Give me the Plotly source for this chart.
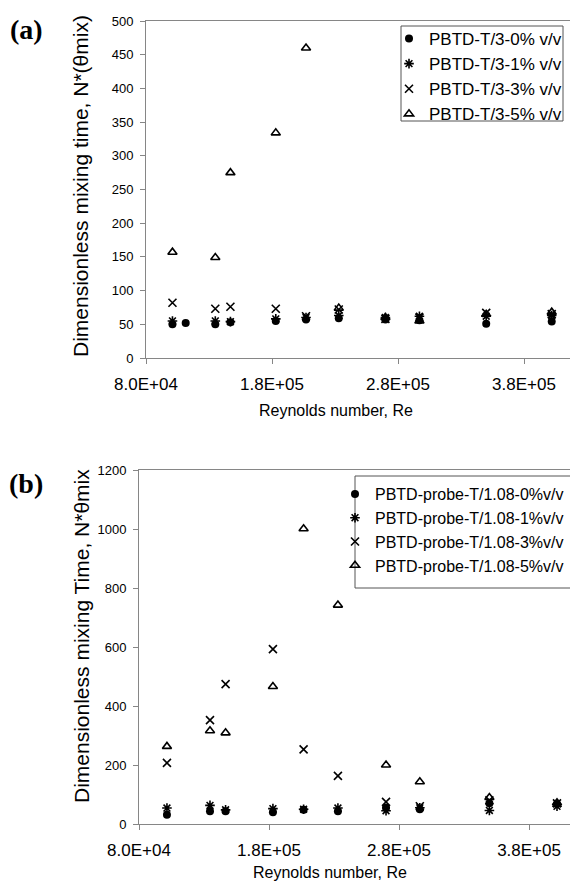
import plotly.graph_objects as go

# ---------------- data ----------------
series_a = ["PBTD-T/3-0% v/v", "PBTD-T/3-1% v/v", "PBTD-T/3-3% v/v", "PBTD-T/3-5% v/v"]
re_a = [101000, 111500, 135000, 147000, 183000, 207000, 233000, 270000, 297000, 350000, 402000]
a_0 = [50, 52, 50, 53, 55, 57, 59, 57, 56, 51, 54]
a_1 = [55, None, 55, 54, 58, 60, 63, 60, 62, 62, 63]
a_3 = [82, None, 73, 76, 73, 62, 72, 58, 60, 67, 65]
a_5 = [157, None, 149, 275, 334, 460, 74, 60, 55, 65, 68]

series_b = ["PBTD-probe-T/1.08-0%v/v", "PBTD-probe-T/1.08-1%v/v",
            "PBTD-probe-T/1.08-3%v/v", "PBTD-probe-T/1.08-5%v/v"]
re_b = [101500, 134600, 146600, 183000, 206600, 233000, 270000, 296000, 349500, 401500]
b_0 = [31, 43, 43, 40, 48, 43, 55, 50, 70, 68]
b_1 = [54, 63, 48, 52, 50, 54, 45, 55, 46, 60]
b_3 = [207, 352, 474, 593, 253, 163, 75, 60, 80, 70]
b_5 = [263, 316, 309, 466, 1001, 742, 200, 143, 90, 72]

x_tickvals = [80000, 180000, 280000, 380000]
x_ticktext = ["8.0E+04", "1.8E+05", "2.8E+05", "3.8E+05"]

# ---------------- style ----------------
W, H = 570, 890
def px(x):
    return x / W
def py(y):
    return 1 - y / H

symbols = ["circle", "asterisk-open", "x-thin-open", "triangle-up-open"]
sizes = [8, 8, 8, 8]
GRAY = "#868686"
FONT = "Liberation Sans, Arial, sans-serif"

fig = go.Figure()

for name, ys, sym, sz in zip(series_a, [a_0, a_1, a_3, a_5], symbols, sizes):
    fig.add_trace(go.Scatter(
        x=re_a, y=ys, mode="markers", name=name, xaxis="x", yaxis="y", legend="legend",
        marker=dict(symbol=sym, size=sz, color="black",
                    line=dict(color="black", width=1.6 if sym != "circle" else 0)),
    ))

for name, ys, sym, sz in zip(series_b, [b_0, b_1, b_3, b_5], symbols, sizes):
    fig.add_trace(go.Scatter(
        x=re_b, y=ys, mode="markers", name=name, xaxis="x2", yaxis="y2", legend="legend2",
        marker=dict(symbol=sym, size=sz, color="black",
                    line=dict(color="black", width=1.6 if sym != "circle" else 0)),
    ))

xcommon = dict(tickvals=x_tickvals, ticktext=x_ticktext, ticks="outside", ticklen=5,
               tickcolor=GRAY, showline=True, linecolor=GRAY, linewidth=1, mirror=True,
               showgrid=False, zeroline=False, tickfont=dict(size=17, color="black"),
               ticklabelstandoff=6)
ycommon = dict(ticks="outside", ticklen=5, tickcolor=GRAY, showline=True, linecolor=GRAY,
               linewidth=1, showgrid=False, zeroline=False,
               tickfont=dict(size=13, color="black"), ticklabelstandoff=4)

fig.update_layout(
    width=W, height=H, autosize=False,
    margin=dict(l=0, r=0, t=0, b=0, autoexpand=False),
    paper_bgcolor="white", plot_bgcolor="white",
    font=dict(family=FONT, color="black"),
    xaxis=dict(domain=[px(146), 1], range=[80000, 416500], anchor="y", **xcommon),
    yaxis=dict(domain=[py(358), py(21)], range=[0, 500], dtick=50, anchor="x", **ycommon),
    xaxis2=dict(domain=[px(139), 1], range=[80000, 411500], anchor="y2", **xcommon),
    yaxis2=dict(domain=[py(824), py(470)], range=[0, 1200], dtick=200, anchor="x2", **ycommon),
    legend=dict(x=px(389), y=py(21), xanchor="left", yanchor="top",
                bgcolor="rgba(0,0,0,0)", borderwidth=0, font=dict(size=17),
                tracegroupgap=0),
    legend2=dict(x=px(335), y=py(477), xanchor="left", yanchor="top",
                 bgcolor="rgba(0,0,0,0)", borderwidth=0, font=dict(size=16),
                 tracegroupgap=0),
    shapes=[
        dict(type="rect", xref="paper", yref="paper", x0=px(401), x1=px(563),
             y0=py(121), y1=py(26), line=dict(color="#555555", width=1), fillcolor="white",
             layer="below"),
        dict(type="rect", xref="paper", yref="paper", x0=px(355), x1=px(572),
             y0=py(588), y1=py(476), line=dict(color="#555555", width=1), fillcolor="white",
             layer="below"),
    ],
    annotations=[
        dict(text="<b>(a)</b>", x=px(26), y=py(29), xref="paper", yref="paper", showarrow=False,
             font=dict(family="Liberation Serif, Times New Roman, serif", size=28, color="black"),
             xanchor="center", yanchor="middle"),
        dict(text="<b>(b)</b>", x=px(26), y=py(483), xref="paper", yref="paper", showarrow=False,
             font=dict(family="Liberation Serif, Times New Roman, serif", size=28, color="black"),
             xanchor="center", yanchor="middle"),
        dict(text="Dimensionless mixing time, N*(θmix)", x=px(80), y=py(186), xref="paper",
             yref="paper", showarrow=False, textangle=-90, font=dict(size=21),
             xanchor="center", yanchor="middle"),
        dict(text="Dimensionless mixing Time, N*θmix", x=px(81), y=py(636), xref="paper",
             yref="paper", showarrow=False, textangle=-90, font=dict(size=21),
             xanchor="center", yanchor="middle"),
        dict(text="Reynolds number, Re", x=px(336), y=py(410), xref="paper", yref="paper",
             showarrow=False, font=dict(size=16), xanchor="center", yanchor="middle"),
        dict(text="Reynolds number, Re", x=px(330), y=py(872), xref="paper", yref="paper",
             showarrow=False, font=dict(size=16), xanchor="center", yanchor="middle"),
    ],
)

fig.write_html("out.html", config={"displayModeBar": False},
               post_script="document.body.style.margin='0';")
